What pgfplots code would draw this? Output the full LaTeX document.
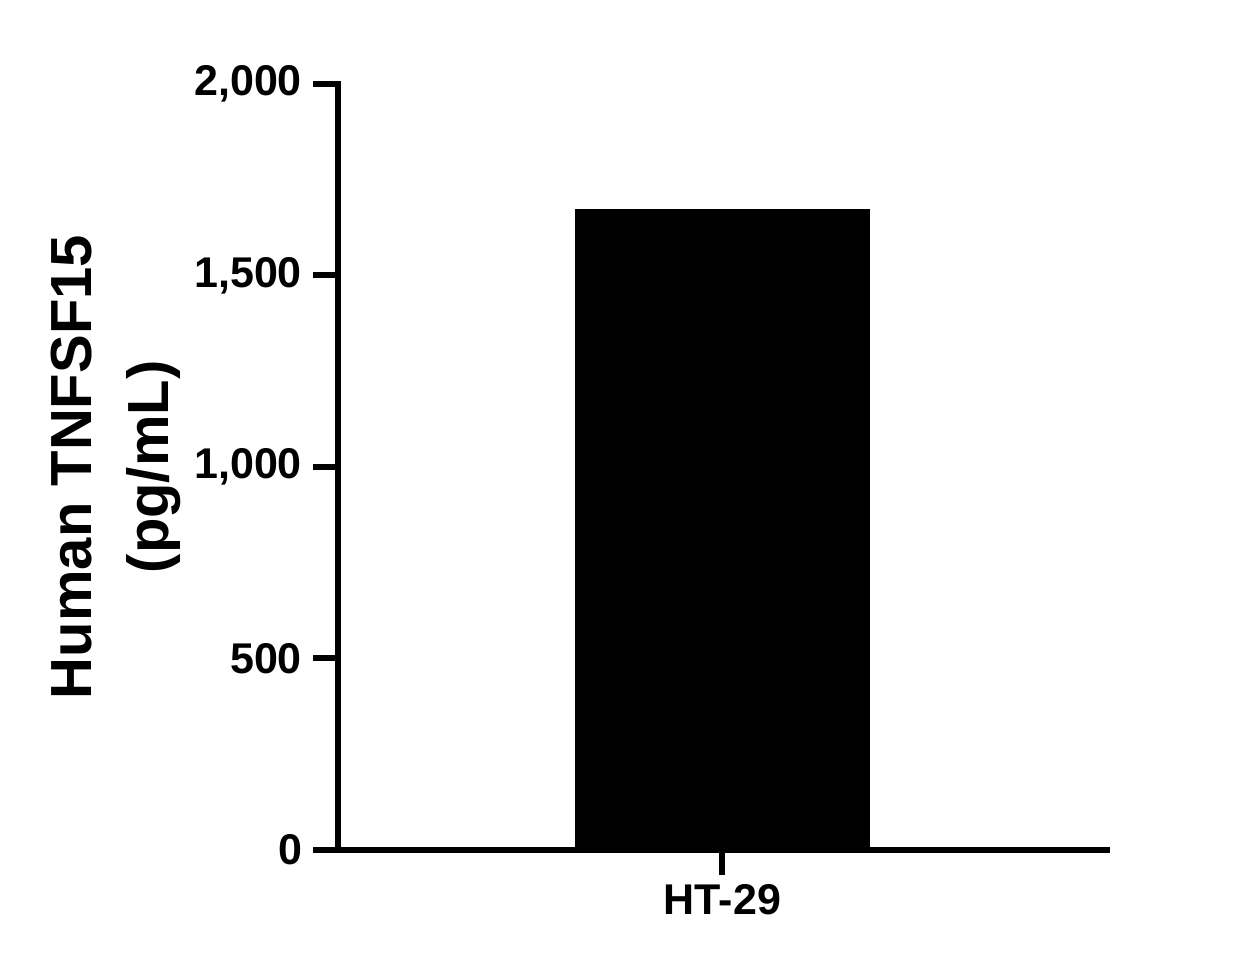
\documentclass[border=0pt]{standalone}
\usepackage{fontspec}
\setmainfont{Liberation Sans}
\usepackage{pgfplots}
\pgfplotsset{compat=1.18}
\begin{document}
\begin{tikzpicture}
\begin{axis}[
  name=main,
  scale only axis,
  width=384.5pt, height=383pt,
  xmin=-1, xmax=1,
  ymin=0, ymax=2000,
  axis x line*=bottom,
  axis y line*=left,
  axis line style={line width=3pt, line cap=rect},
  every tick/.style={line width=3pt, black},
  tick align=outside,
  major tick length=12.5pt,
  xtick={0}, xticklabels={HT-29},
  ytick={0,500,1000,1500,2000},
  /pgf/number format/assume math mode=true,
  /pgf/number format/1000 sep={,},
  ticklabel style={font=\fontsize{21.5}{24}\selectfont\bfseries},
  yticklabel style={xshift=-2pt},
  xticklabel style={yshift=-1pt},
  ylabel={Human TNFSF15\\(pg/mL)},
  ylabel style={font=\fontsize{29}{38.5}\selectfont\bfseries, align=center,
    at={(rel axis cs:0,0.5)}, anchor=center, yshift=111pt},
  clip=false,
]
\addplot[ybar, bar width=0.767, fill=black, draw=none] coordinates {(0,1674)};
\end{axis}
\path[use as bounding box] ([xshift=-169pt,yshift=-58.5pt]main.south west) rectangle ([xshift=68pt,yshift=42pt]main.north east);
\end{tikzpicture}
\end{document}
